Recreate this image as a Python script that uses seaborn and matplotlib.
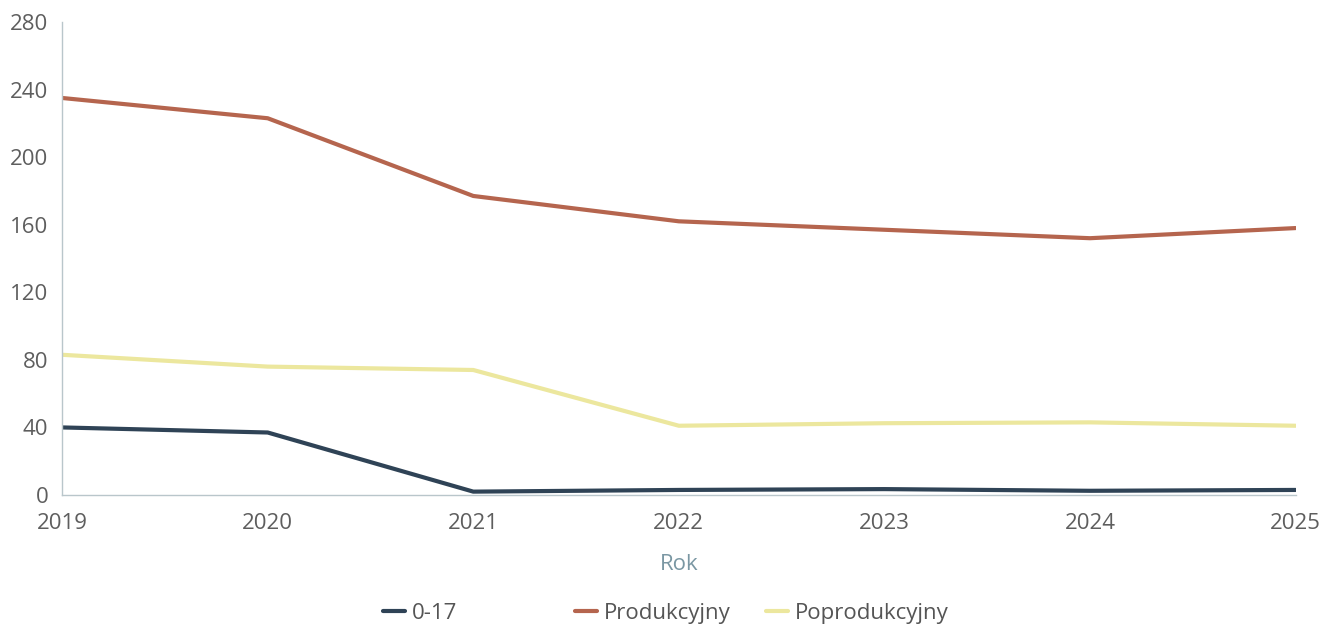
import numpy as np
import pandas as pd
import seaborn as sns
import matplotlib.pyplot as plt
from matplotlib.lines import Line2D

years = [2019, 2020, 2021, 2022, 2023, 2024, 2025]
grp_0_17 = [40, 37, 2, 3, 3.5, 2.5, 3]
produkcyjny = [235, 223, 177, 162, 157, 152, 158]
poprodukcyjny = [83, 76, 74, 41, 42.5, 43, 41]
series_names = ["0-17", "Produkcyjny", "Poprodukcyjny"]
colors = ["#2f4356", "#b5654e", "#ece79e"]

df = pd.DataFrame({
    "Rok": years * 3,
    "value": grp_0_17 + produkcyjny + poprodukcyjny,
    "grupa": [series_names[0]] * 7 + [series_names[1]] * 7 + [series_names[2]] * 7,
})

sns.set_style("white")
plt.rcParams["font.family"] = ["Open Sans", "DejaVu Sans"]

fig = plt.figure(figsize=(13.22, 6.27), dpi=100)
ax = fig.add_axes([0.047, 0.2105, 0.933, 0.7545])

sns.lineplot(data=df, x="Rok", y="value", hue="grupa", palette=colors,
             linewidth=3, ax=ax, legend=False)

ax.set_xlim(2019, 2025)
ax.set_ylim(0, 280)
ax.set_yticks(np.arange(0, 281, 40))
ax.set_xticks(years)
ax.tick_params(axis="both", length=0, labelsize=16, labelcolor="#5e5e5e")
ax.tick_params(axis="x", pad=13)
ax.tick_params(axis="y", pad=10)
ax.set_ylabel("")
ax.set_xlabel("Rok", fontsize=16, color="#7a97a3")
ax.xaxis.set_label_coords(0.5, -0.125)

for s in ["top", "right"]:
    ax.spines[s].set_visible(False)
for s in ["left", "bottom"]:
    ax.spines[s].set_color("#b9c6cb")
    ax.spines[s].set_linewidth(1)

handles = [Line2D([0], [0], color=c, lw=3) for c in colors]
leg_kw = dict(loc="center", frameon=False, fontsize=16, handlelength=1.0,
              handletextpad=0.3)
leg1 = fig.legend(handles[:1], series_names[:1],
                  bbox_to_anchor=(0.318, 0.022), **leg_kw)
leg2 = fig.legend(handles[1:], series_names[1:], ncol=2, columnspacing=1.6,
                  bbox_to_anchor=(0.576, 0.022), **leg_kw)
for leg in (leg1, leg2):
    for t in leg.get_texts():
        t.set_color("#555555")

fig.savefig("out.png", dpi=100)
